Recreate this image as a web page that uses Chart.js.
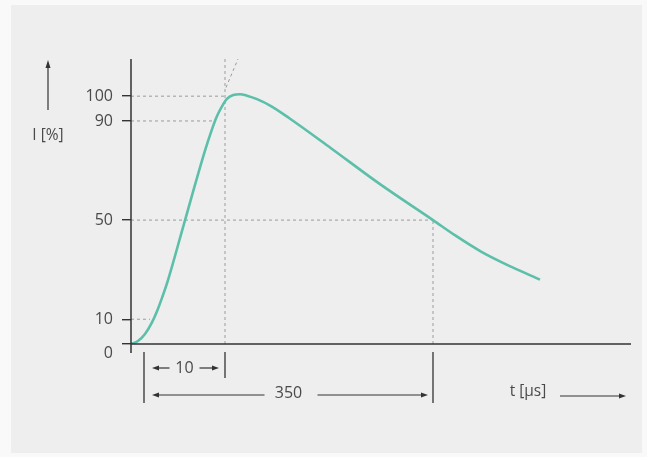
<!DOCTYPE html>
<html>
<head>
<meta charset="utf-8">
<script src="https://cdn.jsdelivr.net/npm/chart.js@4.4.1/dist/chart.umd.min.js"></script>
<style>
html,body{margin:0;padding:0;background:#f9f9f9;}
canvas{display:block;}
</style>
</head>
<body>
<canvas id="impulse_chart" width="647" height="457"></canvas>
<script>
// schematic time axis (not to scale), units 0..500 along the t axis
var curve_x = [0, 7, 14, 21, 26, 31, 37, 53, 74, 80.7, 85.7, 90.7, 95.7, 102.3, 109, 116, 126, 140, 158, 200, 249, 302, 325, 350, 380, 409];
var curve_y = [0, 1.2, 4, 8.7, 13.2, 18.6, 25.8, 48.5, 78, 86.3, 91.7, 95.7, 98.8, 100.5, 100.8, 100.2, 98.8, 96, 91.2, 79, 64.5, 50, 43.6, 37.3, 31.2, 26];
var y_ticks = [0, 10, 50, 90, 100];

// dashed helper lines: [x1, y1, x2, y2]
var guides = [
	[0, 100, 94, 100],
	[0, 90, 81, 90],
	[0, 50, 302, 50],
	[0, 10, 19, 10],
	[94, 0, 94, 115],
	[302, 0, 302, 50],
	[95, 103.5, 107, 115]
];

// span markers below the t axis
var marker_x = [13, 94, 302];
var span_labels = ['10', '350'];
var x_label = 't [\u00b5s]';
var y_label = 'I [%]';

var TEXT = '#4a4a4a';
var AXIS = '#333333';
var FONT = '"Open Sans", "DejaVu Sans", sans-serif';

function make_points(xs, ys){
	var pts = [];
	for(var i=0; i<xs.length; i++){
		pts.push({x: xs[i], y: ys[i]});
	}
	return pts;
}

function arrow(ctx, x1, y, x2){
	var dir = x2 > x1 ? 1 : -1;
	ctx.beginPath();
	ctx.moveTo(x1, y);
	ctx.lineTo(x2 - dir*5, y);
	ctx.stroke();
	ctx.beginPath();
	ctx.moveTo(x2, y);
	ctx.lineTo(x2 - dir*7, y - 2.5);
	ctx.lineTo(x2 - dir*7, y + 2.5);
	ctx.closePath();
	ctx.fill();
}

var overlay = {
	id: 'overlay',
	beforeDraw: function(chart){
		var ctx = chart.ctx;
		ctx.save();
		ctx.fillStyle = '#eeeeee';
		ctx.fillRect(11, 5, 631, 448);
		ctx.restore();
	},
	afterDraw: function(chart){
		var ctx = chart.ctx;
		var xs = chart.scales.x, ys = chart.scales.y;
		var x0 = xs.getPixelForValue(0);
		var xr = xs.getPixelForValue(500);
		var yb = ys.getPixelForValue(0);
		var yt = ys.getPixelForValue(115);
		ctx.save();
		ctx.strokeStyle = AXIS;
		ctx.fillStyle = AXIS;
		ctx.lineWidth = 1.5;
		// axes
		ctx.beginPath();
		ctx.moveTo(x0, yt);
		ctx.lineTo(x0, yb + 9);
		ctx.moveTo(x0, yb);
		ctx.lineTo(xr, yb);
		ctx.stroke();

		// markers
		var m = marker_x.map(function(v){ return xs.getPixelForValue(v); });
		ctx.lineWidth = 1.3;
		ctx.beginPath();
		ctx.moveTo(m[0], yb + 8); ctx.lineTo(m[0], yb + 59);
		ctx.moveTo(m[1], yb + 8); ctx.lineTo(m[1], yb + 34);
		ctx.moveTo(m[2], yb + 8); ctx.lineTo(m[2], yb + 59);
		ctx.stroke();

		ctx.lineWidth = 1.2;
		var r1 = yb + 24, r2 = yb + 51;
		var c1 = (m[0] + m[1]) / 2, c2 = (m[0] + m[2]) / 2;
		arrow(ctx, c1 - 15, r1, m[0] + 8);
		arrow(ctx, c1 + 15, r1, m[1] - 6);
		arrow(ctx, c2 - 24, r2, m[0] + 8);
		arrow(ctx, c2 + 29, r2, m[2] - 5);
		arrow(ctx, xr - 71, r2 + 1, xr - 5);

		// y label arrow
		ctx.beginPath();
		ctx.moveTo(48, 110);
		ctx.lineTo(48, 66);
		ctx.stroke();
		ctx.beginPath();
		ctx.moveTo(48, 60);
		ctx.lineTo(45.5, 68);
		ctx.lineTo(50.5, 68);
		ctx.closePath();
		ctx.fill();

		ctx.fillStyle = TEXT;
		ctx.font = '16px ' + FONT;
		ctx.textBaseline = 'middle';
		ctx.textAlign = 'center';
		ctx.fillText(span_labels[0], c1, r1);
		ctx.fillText(span_labels[1], c2, r2 - 2);
		ctx.font = '15.5px ' + FONT;
		ctx.fillText(x_label, xr - 103, r2 - 3);
		ctx.fillText(y_label, 48, 136);
		// zero label sits below its tick
		ctx.font = '16px ' + FONT;
		ctx.textAlign = 'right';
		ctx.fillText('0', x0 - 18, yb + 9);
		ctx.restore();
	}
};

var datasets = [];
datasets.push({
	data: make_points(curve_x, curve_y),
	borderColor: '#5bbfa9',
	borderWidth: 2.6,
	pointRadius: 0,
	cubicInterpolationMode: 'monotone',
	order: 0
});
for(var i=0; i<guides.length; i++){
	var g = guides[i];
	datasets.push({
		data: [{x: g[0], y: g[1]}, {x: g[2], y: g[3]}],
		borderColor: '#9b9b9b',
		borderWidth: 1,
		borderDash: [3, 3],
		pointRadius: 0,
		order: 1
	});
}

var ctx = document.getElementById('impulse_chart').getContext('2d');
var chart = new Chart(ctx, {
	type: 'line',
	data: {datasets: datasets},
	options: {
		responsive: false,
		animation: false,
		layout: {padding: {left: 0, top: 59, right: 16, bottom: 113}},
		plugins: {legend: {display: false}, tooltip: {enabled: false}},
		scales: {
			x: {type: 'linear', min: 0, max: 500, display: false},
			y: {
				type: 'linear', min: 0, max: 115,
				afterFit: function(s){ s.width = 131; },
				afterBuildTicks: function(s){
					s.ticks = y_ticks.map(function(v){ return {value: v}; });
				},
				border: {display: false},
				grid: {drawOnChartArea: false, drawTicks: true, tickLength: 9, tickColor: AXIS, lineWidth: 1.4},
				ticks: {
					autoSkip: false, padding: 9, color: TEXT,
					font: {family: FONT, size: 16},
					callback: function(v){ return v === 0 ? '' : v; }
				}
			}
		}
	},
	plugins: [overlay]
});
</script>
</body>
</html>
